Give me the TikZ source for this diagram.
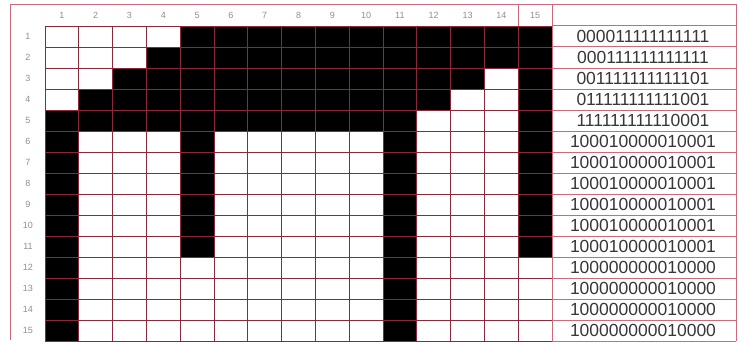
\documentclass[tikz,border=0pt]{standalone}
\usepackage{fontspec}
\setmainfont{Liberation Sans}
\definecolor{gridred}{RGB}{140,40,60}
\definecolor{framered}{RGB}{205,105,125}
\definecolor{labelgray}{RGB}{150,140,145}
\definecolor{bittext}{RGB}{55,55,55}
\tikzset{
  gridline/.style={draw=gridred, line width=0.8pt},
  frameline/.style={draw=framered, line width=1pt},
  idxlabel/.style={font=\fontsize{9}{9}\selectfont, text=labelgray, inner sep=0pt},
  bitlabel/.style={font=\fontsize{17.5}{17.5}\selectfont, text=bittext, inner sep=0pt},
}
\begin{document}
\begin{tikzpicture}[x=1pt, y=-1pt]
  \useasboundingbox[fill=white] (0,0) rectangle (741,345);
  % black pixels, row by row
  \foreach \r/\cols in {1/{5,...,15}, 2/{4,...,15}, 3/{3,...,13,15},
                        4/{2,...,12,15}, 5/{1,...,11,15},
                        6/{1,5,11,15}, 7/{1,5,11,15}, 8/{1,5,11,15},
                        9/{1,5,11,15}, 10/{1,5,11,15}, 11/{1,5,11,15},
                        12/{1,11}, 13/{1,11}, 14/{1,11}, 15/{1,11}}
    \foreach \c in \cols
      \fill[black] ({45+(\c-1)*33.8},{26+(\r-1)*21}) rectangle ++(33.8,21);
  % grid
  \foreach \i in {0,...,15} {
    \draw[gridline] ({45+\i*33.8},26) -- ({45+\i*33.8},341);
    \draw[gridline] (45,{26+\i*21}) -- (552,{26+\i*21});
  }
  % code column and frame
  \foreach \i in {0,...,15}
    \draw[frameline] (552,{26+\i*21}) -- (736,{26+\i*21});
  \draw[frameline] (10,340) -- (10,5) -- (736,5) -- (736,341);
  \draw[frameline] (552,5) -- (552,341);
  \draw[frameline] (518.2,5) -- (518.2,26);
  % column and row numbers
  \foreach \c in {1,...,15}
    \node[idxlabel] (col-\c) at ({45+(\c-0.5)*33.8},15.5) {\c};
  \foreach \r in {1,...,15}
    \node[idxlabel] (row-\r) at (28,{26+(\r-0.5)*21}) {\r};
  % row codes
  \foreach \r/\bits in {1/000011111111111, 2/000111111111111, 3/001111111111101,
                        4/011111111111001, 5/111111111110001,
                        6/100010000010001, 7/100010000010001, 8/100010000010001,
                        9/100010000010001, 10/100010000010001, 11/100010000010001,
                        12/100000000010000, 13/100000000010000,
                        14/100000000010000, 15/100000000010000}
    \node[bitlabel] (bits-\r) at (643,{26+(\r-0.5)*21}) {\bits};
\end{tikzpicture}
\end{document}
